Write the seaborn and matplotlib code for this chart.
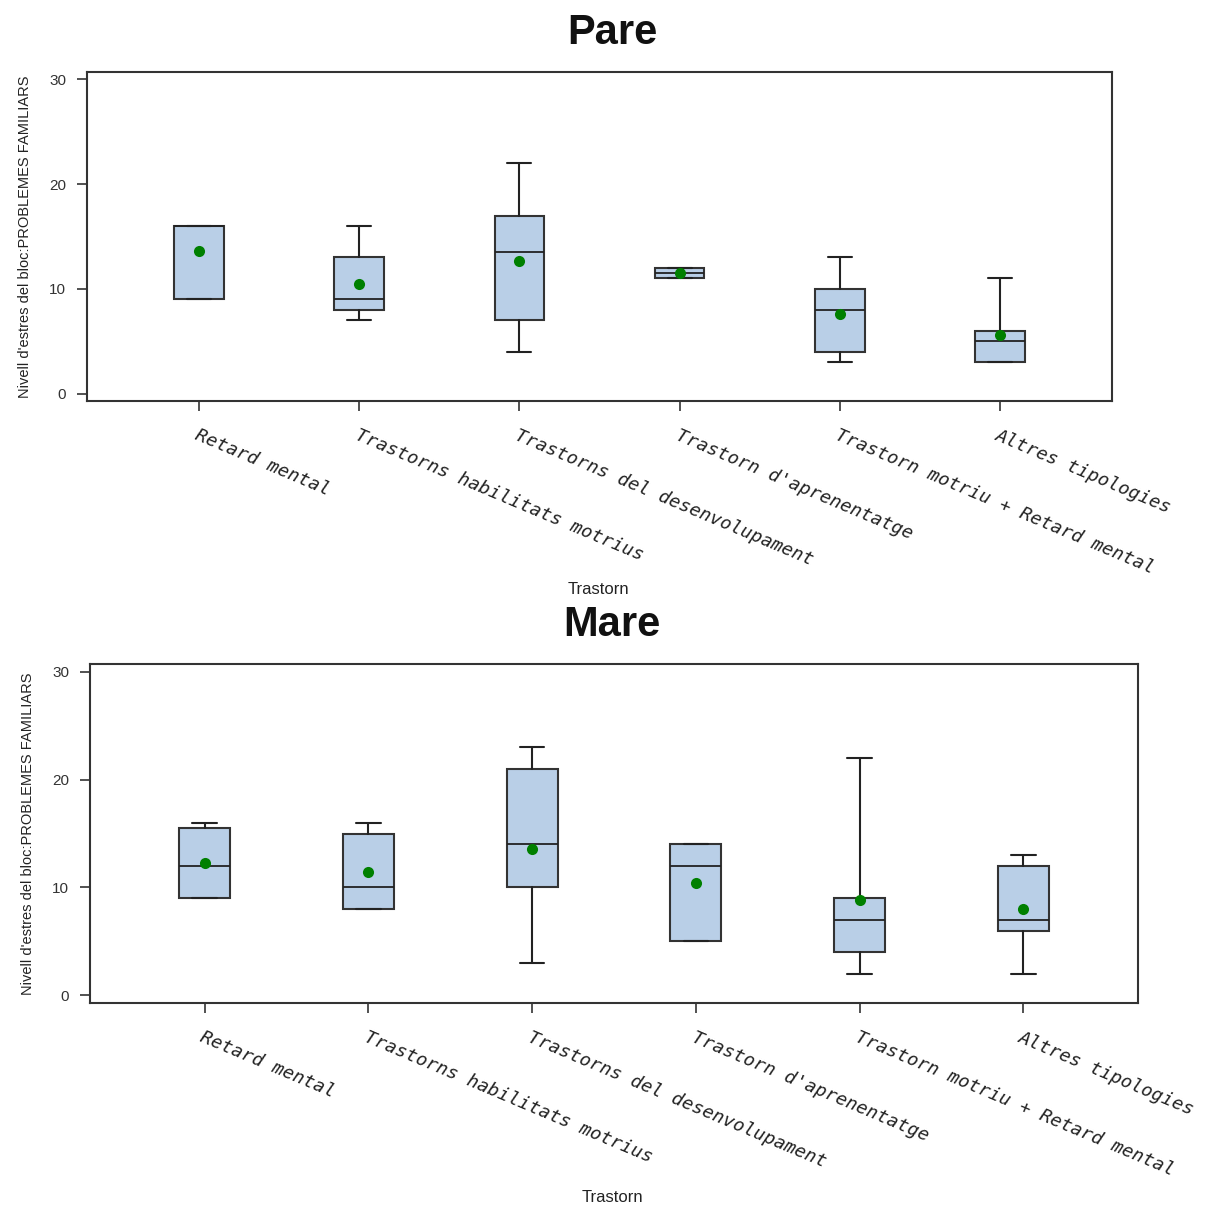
import matplotlib
matplotlib.use("Agg")
import matplotlib.pyplot as plt
import seaborn as sns
import numpy as np

categories = ["Retard mental", "Trastorns habilitats motrius", "Trastorns del desenvolupament",
              "Trastorn d'aprenentatge", "Trastorn motriu + Retard mental", "Altres tipologies"]

# Pare
pare_whislo = [9, 7, 4, 11, 3, 3]
pare_q1 = [9, 8, 7, 11, 4, 3]
pare_med = [16, 9, 13.5, 11.5, 8, 5]
pare_q3 = [16, 13, 17, 12, 10, 6]
pare_whishi = [16, 16, 22, 12, 13, 11]
pare_mean = [13.6, 10.5, 12.7, 11.5, 7.6, 5.6]

# Mare
mare_whislo = [9, 8, 3, 5, 2, 2]
mare_q1 = [9, 8, 10, 5, 4, 6]
mare_med = [12, 10, 14, 12, 7, 7]
mare_q3 = [15.5, 15, 21, 14, 9, 12]
mare_whishi = [16, 16, 23, 14, 22, 13]
mare_mean = [12.3, 11.4, 13.6, 10.4, 8.8, 8.0]

ylabel = "Nivell d'estres del bloc:PROBLEMES FAMILIARS"
xlabel = "Trastorn"
yticks = [0, 10, 20, 30]

sns.set_theme(style="white")
plt.rcParams['font.family'] = ['Liberation Sans', 'DejaVu Sans']

W, H = 1218, 1205
fig = plt.figure(figsize=(W / 100, H / 100), dpi=100)
fig.patch.set_facecolor("white")


def px_axes(left, top, right, bottom):
    return fig.add_axes([left / W, 1 - bottom / H, (right - left) / W, (bottom - top) / H])


def draw(ax, whislo, q1, med, q3, whishi, mean):
    stats = []
    for i in range(len(categories)):
        stats.append(dict(whislo=whislo[i], q1=q1[i], med=med[i], q3=q3[i], whishi=whishi[i], fliers=[]))
    ax.bxp(stats, positions=list(range(len(categories))), widths=0.31, capwidths=0.15,
           patch_artist=True, showfliers=False, manage_ticks=False,
           boxprops=dict(facecolor="#b9cfe7", edgecolor="#333333", linewidth=1.5),
           medianprops=dict(color="#222222", linewidth=1.3),
           whiskerprops=dict(color="#222222", linewidth=1.5),
           capprops=dict(color="#222222", linewidth=1.5))
    sns.stripplot(x=list(range(len(categories))), y=mean, native_scale=True, jitter=False,
                  color="#008000", size=8, linewidth=0, ax=ax, zorder=5)
    ax.set_xlim(-0.7, 5.7)
    ax.set_ylim(-0.7, 30.7)
    ax.set_yticks(yticks)
    ax.set_yticklabels([str(t) for t in yticks], fontsize=11, color="#333333")
    ax.set_xticks(list(range(len(categories))))
    ax.set_xticklabels(categories, rotation=-23, ha="left", va="top", rotation_mode="anchor",
                       fontsize=13.2, family="DejaVu Sans Mono", style="italic", color="#222222")
    ax.tick_params(axis="both", which="both", direction="out", length=7, width=1.2,
                   color="#333333", bottom=True, left=True)
    ax.tick_params(axis="x", pad=11)
    ax.tick_params(axis="y", pad=8)
    for s in ax.spines.values():
        s.set_color("#333333")
        s.set_linewidth(1.5)
    ax.set_facecolor("white")
    ax.set_xlabel("")
    ax.set_ylabel(ylabel, fontsize=10.5, color="#222222", labelpad=12)
    ax.grid(False)


ax1 = px_axes(87, 72, 1112, 401)
draw(ax1, pare_whislo, pare_q1, pare_med, pare_q3, pare_whishi, pare_mean)
ax2 = px_axes(90, 664, 1138, 1003)
draw(ax2, mare_whislo, mare_q1, mare_med, mare_q3, mare_whishi, mare_mean)

fig.text(612 / W, 1 - 33 / H, "Pare", ha="center", va="center", fontsize=30, fontweight="bold", color="#111111")
fig.text(612 / W, 1 - 625 / H, "Mare", ha="center", va="center", fontsize=30, fontweight="bold", color="#111111")
fig.text(598 / W, 1 - 589 / H, xlabel, ha="center", va="center", fontsize=12, color="#222222")
fig.text(612 / W, 1 - 1197 / H, xlabel, ha="center", va="center", fontsize=12, color="#222222")

fig.savefig("out.png", dpi=100, facecolor="white")
